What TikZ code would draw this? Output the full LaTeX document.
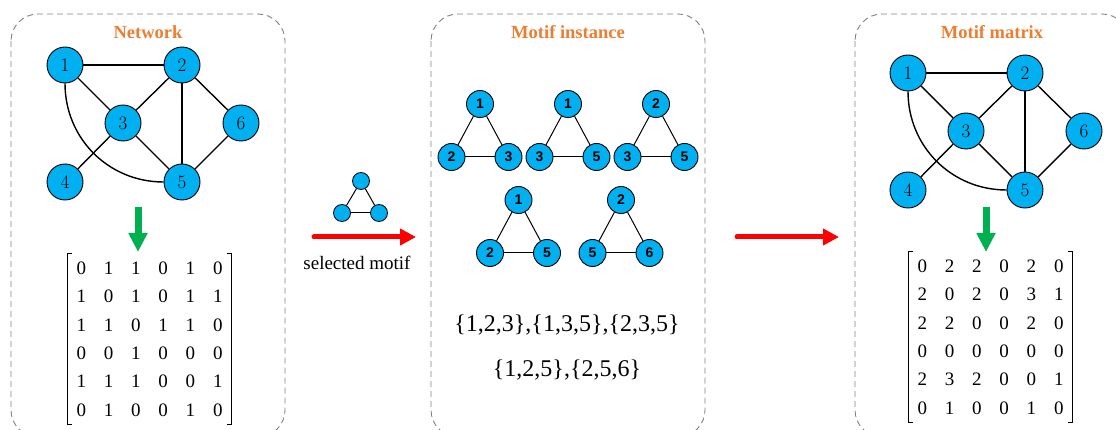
\documentclass[tikz,border=0pt]{standalone}
\usepackage{fontspec}
\newfontfamily\timesf{Liberation Serif}
\newfontfamily\arialf{Liberation Sans}
\usetikzlibrary{arrows.meta,matrix}

\definecolor{nodecyan}{RGB}{0,176,240}
\definecolor{titleorange}{RGB}{237,125,49}
\definecolor{arrowgreen}{RGB}{0,176,80}
\definecolor{panelgray}{RGB}{130,130,130}

\tikzset{
  panel/.style={draw=panelgray, line width=0.9pt, dash pattern=on 6pt off 4pt, rounded corners=27pt},
  title/.style={font=\timesf\bfseries\fontsize{18.5}{20}\selectfont, text=titleorange},
  bignode/.style={circle, draw=black, line width=0.9pt, fill=nodecyan, minimum size=36pt, inner sep=0pt, font=\fontsize{19}{19}\selectfont},
  smallnode/.style={circle, draw=black, line width=0.9pt, fill=nodecyan, minimum size=27pt, inner sep=0pt, font=\arialf\bfseries\fontsize{14}{14}\selectfont},
  tinynode/.style={circle, draw=black, line width=0.8pt, fill=nodecyan, minimum size=17pt, inner sep=0pt},
  netedge/.style={line width=1.4pt},
  motifedge/.style={line width=1pt},
  greenarrow/.style={draw=arrowgreen, line width=7pt, -{Triangle[width=18pt,length=19pt]}},
  redarrow/.style={draw=red, line width=5pt, line cap=round, -{Triangle[width=16pt,length=16pt]}},
  cell/.style={font=\timesf\fontsize{19}{19}\selectfont, minimum width=27.3pt, minimum height=28.4pt, inner sep=0pt, anchor=center},
  settext/.style={font=\timesf\fontsize{24}{24}\selectfont},
}

% the six-node network, node names prefixed by #1
\newcommand\netgraph[1]{%
  \node[bignode] (#1n1) at (65,65) {1};
  \node[bignode] (#1n2) at (182,65) {2};
  \node[bignode] (#1n3) at (123,123) {3};
  \node[bignode] (#1n6) at (241,123) {6};
  \node[bignode] (#1n4) at (65,182) {4};
  \node[bignode] (#1n5) at (182,182) {5};
  \draw[netedge] (#1n1) -- (#1n2);
  \draw[netedge] (#1n1) -- (#1n3);
  \draw[netedge] (#1n2) -- (#1n3);
  \draw[netedge] (#1n2) -- (#1n5);
  \draw[netedge] (#1n2) -- (#1n6);
  \draw[netedge] (#1n3) -- (#1n5);
  \draw[netedge] (#1n5) -- (#1n6);
  \draw[netedge] (#1n3) -- (#1n4);
  \draw[netedge] (#1n1.south) .. controls ([yshift=-55pt]#1n1.south) and ([xshift=-55pt]#1n5.west) .. (#1n5.west);
}

% a labelled triangle motif: name, apex x, apex y, three labels
\newcommand\motiftri[6]{%
  \node[smallnode] (#1a) at (#2,#3) {#4};
  \node[smallnode] (#1b) at (#2-28.5,#3+53) {#5};
  \node[smallnode] (#1c) at (#2+28.5,#3+53) {#6};
  \draw[motifedge] (#1a) -- (#1b);
  \draw[motifedge] (#1a) -- (#1c);
  \draw[motifedge] (#1b) -- (#1c);
}

% square brackets round a matrix
\newcommand\brackets[1]{%
  \draw[line width=0.8pt] ([xshift=5pt]#1.north west) -- (#1.north west) -- (#1.south west) -- ([xshift=5pt]#1.south west);
  \draw[line width=0.8pt] ([xshift=-5pt]#1.north east) -- (#1.north east) -- (#1.south east) -- ([xshift=-5pt]#1.south east);
}

\begin{document}
\begin{tikzpicture}[x=1pt,y=-1pt]
\useasboundingbox (0,0) rectangle (1116,430);
\clip (0,0) rectangle (1116,430);

% panels
\draw[panel] (11,14) rectangle (285,437);
\draw[panel] (431,14) rectangle (705,437);
\draw[panel] (855,14) rectangle (1129,437);

\node[title] (t1) at (148,32) {Network};
\node[title] (t2) at (568,32) {Motif instance};
\node[title] (t3) at (992,32) {Motif matrix};

% network and adjacency matrix
\netgraph{a}
\coordinate (g1s) at (138,207);
\coordinate (g1e) at (138,252);
\draw[greenarrow] (g1s) -- (g1e);
\matrix (m1) [matrix of nodes, nodes={cell}, inner sep=0pt, row sep=0pt, column sep=0pt] at (149.5,339) {
0 & 1 & 1 & 0 & 1 & 0 \\
1 & 0 & 1 & 0 & 1 & 1 \\
1 & 1 & 0 & 1 & 1 & 0 \\
0 & 0 & 1 & 0 & 0 & 0 \\
1 & 1 & 1 & 0 & 0 & 1 \\
0 & 1 & 0 & 0 & 1 & 0 \\
};
\brackets{m1}

% selected motif
\node[tinynode] (s1) at (361,181) {};
\node[tinynode] (s2) at (342,213) {};
\node[tinynode] (s3) at (379,213) {};
\draw[motifedge] (s1) -- (s2);
\draw[motifedge] (s1) -- (s3);
\draw[motifedge] (s2) -- (s3);
\coordinate (r1s) at (314,237);
\coordinate (r1e) at (416,237);
\draw[redarrow] (r1s) -- (r1e);
\node[font=\timesf\fontsize{19}{19}\selectfont] (sel) at (357,263) {selected motif};

% motif instances
\motiftri{ta}{480}{104}{1}{2}{3}
\motiftri{tb}{568}{104}{1}{3}{5}
\motiftri{tc}{656}{104}{2}{3}{5}
\motiftri{td}{518.5}{200}{1}{2}{5}
\motiftri{te}{621}{200}{2}{5}{6}
\node[settext] (set1) at (567,325) {\{1,2,3\},\{1,3,5\},\{2,3,5\}};
\node[settext] (set2) at (567,370) {\{1,2,5\},\{2,5,6\}};

\coordinate (r2s) at (737,237);
\coordinate (r2e) at (839,237);
\draw[redarrow] (r2s) -- (r2e);

% motif network and motif matrix
\begin{scope}[shift={(843,8)}]
\netgraph{c}
\end{scope}
\coordinate (g2s) at (986,207);
\coordinate (g2e) at (986,252);
\draw[greenarrow] (g2s) -- (g2e);
\matrix (m3) [matrix of nodes, nodes={cell}, inner sep=0pt, row sep=0pt, column sep=0pt] at (990.5,337) {
0 & 2 & 2 & 0 & 2 & 0 \\
2 & 0 & 2 & 0 & 3 & 1 \\
2 & 2 & 0 & 0 & 2 & 0 \\
0 & 0 & 0 & 0 & 0 & 0 \\
2 & 3 & 2 & 0 & 0 & 1 \\
0 & 1 & 0 & 0 & 1 & 0 \\
};
\brackets{m3}
\end{tikzpicture}
\end{document}
